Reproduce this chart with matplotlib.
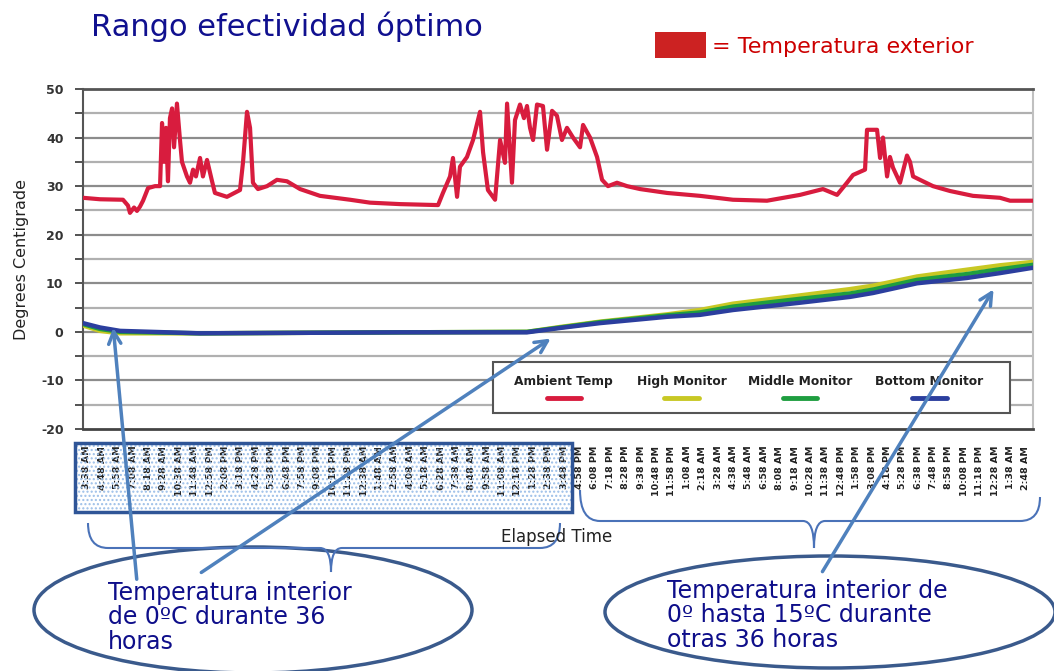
import numpy as np
import matplotlib.pyplot as plt
from matplotlib.patches import Rectangle, Ellipse, FancyArrowPatch, PathPatch
from matplotlib.path import Path
from matplotlib.ticker import MultipleLocator, FixedLocator

plt.rcParams['axes.unicode_minus'] = False

W, H = 1054, 671

# horas desde el inicio del registro
amb_h = [0.00, 1.29, 3.03, 3.41, 3.56, 3.87, 4.09, 4.32, 4.55, 4.93, 5.46, 5.84,
         5.99, 6.14, 6.29, 6.44, 6.59, 6.75, 6.90, 7.12, 7.35, 7.50, 7.88, 8.11,
         8.34, 8.56, 8.87, 9.09, 9.40, 9.78, 10.00, 10.91, 11.90, 12.13, 12.43,
         12.66, 12.88, 13.26, 13.95, 14.70, 15.46, 16.45, 17.96, 20.24, 21.75,
         24.03, 26.91, 27.28, 27.82, 28.04, 28.35, 28.57, 29.10, 29.56, 30.09,
         30.32, 30.69, 31.23, 31.61, 31.98, 32.14, 32.51, 32.74, 33.12, 33.42,
         33.65, 33.88, 34.11, 34.41, 34.86, 35.17, 35.55, 35.92, 36.30, 36.68,
         37.14, 37.67, 37.90, 38.43, 38.96, 39.34, 39.79, 40.47, 41.23, 42.22,
         44.26, 46.76, 49.26, 51.84, 54.34, 56.08, 57.15, 57.90, 58.36, 59.27,
         59.42, 60.18, 60.41, 60.63, 60.94, 61.16, 61.39, 61.92, 62.45, 62.68,
         62.91, 63.66, 64.42, 65.71, 67.45, 69.50, 70.26, 72.00]
ambient = [27.6, 27.3, 27.2, 26.0, 24.5, 25.6, 24.9, 25.8, 27.0, 29.6, 30.0, 30.0,
           43.0, 35.0, 42.0, 31.0, 44.0, 46.0, 38.0, 47.0, 39.5, 35.0, 32.0, 30.7,
           33.4, 32.0, 35.8, 32.0, 35.4, 31.0, 28.6, 27.8, 29.2, 35.0, 45.3,
           42.0, 30.7, 29.4, 30.0, 31.3, 31.0, 29.4, 28.0, 27.2, 26.6,
           26.3, 26.1, 28.6, 32.0, 35.8, 27.8, 34.0, 36.0, 39.5, 45.3,
           37.0, 29.2, 27.2, 39.5, 34.8, 47.0, 30.7, 43.6, 46.8, 44.0,
           46.5, 42.0, 39.5, 46.8, 46.5, 37.5, 45.5, 44.5, 39.5, 42.0,
           40.0, 38.0, 42.6, 40.0, 36.0, 31.3, 30.0, 30.7, 30.0, 29.4,
           28.6, 28.0, 27.2, 27.0, 28.2, 29.4, 28.2, 30.7, 32.3, 33.4,
           41.6, 41.6, 35.8, 40.0, 32.0, 36.0, 33.8, 30.7, 36.3, 35.0,
           32.0, 31.0, 30.0, 29.0, 28.0, 27.6, 27.0, 27.0]

mon_h = [0.00, 1.29, 2.81, 8.87, 24.03, 33.65, 36.15, 39.18, 44.26, 46.76,
         49.26, 54.34, 58.13, 59.87, 63.21, 67.00, 69.50, 72.00]
high = [1.3, 0.2, -0.3, -0.3, -0.1, 0.0, 1.0, 2.1, 3.6, 4.5,
        5.8, 7.5, 8.8, 9.5, 11.4, 12.8, 13.7, 14.4]
middle = [1.6, 0.6, 0.0, -0.3, -0.1, 0.0, 0.9, 2.0, 3.4, 4.0,
          5.2, 6.8, 7.9, 8.7, 10.7, 11.9, 12.9, 13.8]
bottom = [1.8, 0.9, 0.2, -0.3, -0.1, -0.1, 0.8, 1.8, 3.1, 3.5,
          4.5, 6.0, 7.2, 8.0, 10.0, 11.1, 12.1, 13.2]

tick_labels = ['3:38 AM', '4:48 AM', '5:58 AM', '7:08 AM', '8:18 AM', '9:28 AM',
               '10:38 AM', '11:48 AM', '12:58 PM', '2:08 PM', '3:18 PM', '4:28 PM',
               '5:38 PM', '6:48 PM', '7:58 PM', '9:08 PM', '10:18 PM', '11:28 PM',
               '12:38 AM', '1:48 AM', '2:58 AM', '4:08 AM', '5:18 AM', '6:28 AM',
               '7:38 AM', '8:48 AM', '9:58 AM', '11:08 AM', '12:18 PM', '1:28 PM',
               '2:38 PM', '3:48 PM', '4:58 PM', '6:08 PM', '7:18 PM', '8:28 PM',
               '9:38 PM', '10:48 PM', '11:58 PM', '1:08 AM', '2:18 AM', '3:28 AM',
               '4:38 AM', '5:48 AM', '6:58 AM', '8:08 AM', '9:18 AM', '10:28 AM',
               '11:38 AM', '12:48 PM', '1:58 PM', '3:08 PM', '4:18 PM', '5:28 PM',
               '6:38 PM', '7:48 PM', '8:58 PM', '10:08 PM', '11:18 PM', '12:28 AM',
               '1:38 AM', '2:48 AM']

names = ['Ambient Temp', 'High Monitor', 'Middle Monitor', 'Bottom Monitor']
colors = ['#d81c3e', '#c8c824', '#1f9e40', '#2b3e9e']


def fx(x):
    return x / W


def fy(y):
    return 1 - y / H


fig = plt.figure(figsize=(W / 100, H / 100), dpi=100)
ax = fig.add_axes([fx(83), fy(429), 950 / W, 340 / H])

ax.plot(mon_h, high, color=colors[1], lw=3.2, zorder=3)
ax.plot(mon_h, middle, color=colors[2], lw=3.2, zorder=4)
ax.plot(mon_h, bottom, color=colors[3], lw=3.2, zorder=5)
ax.plot(amb_h, ambient, color=colors[0], lw=3, zorder=6)

ax.set_xlim(0, 72)
ax.set_ylim(-20, 50)

# rejilla cada 5 grados
for v in range(-15, 50, 5):
    ax.axhline(v, color='#8c8c8c' if v % 10 == 0 else '#b0b0b0', lw=1.6, zorder=1)

ax.yaxis.set_major_locator(MultipleLocator(10))
ax.yaxis.set_minor_locator(MultipleLocator(5))
ax.tick_params(axis='y', which='both', length=6, width=1.3, color='#444', pad=8,
               labelsize=9, labelcolor='#333')
for t in ax.get_yticklabels():
    t.set_fontweight('bold')

ticks = np.arange(len(tick_labels)) * 70 / 60 + 0.3
ax.xaxis.set_major_locator(FixedLocator(ticks))
ax.set_xticklabels(tick_labels, rotation=90, fontsize=6.8, fontweight='bold', color='#222')
ax.tick_params(axis='x', length=0, pad=12)

ax.spines['top'].set_color('#555')
ax.spines['top'].set_linewidth(2)
ax.spines['bottom'].set_color('#444')
ax.spines['bottom'].set_linewidth(2)
ax.spines['left'].set_color('#555')
ax.spines['left'].set_linewidth(1.5)
ax.spines['right'].set_color('#c0c0c0')
ax.spines['right'].set_linewidth(1.5)

ax.set_ylabel('Degrees Centigrade', fontsize=11.5, color='#222')
ax.yaxis.set_label_coords(-0.057, 0.5)

# leyenda del registrador
ax.add_patch(Rectangle((0.4316, 0.047), 0.5442, 0.15, transform=ax.transAxes,
                       facecolor='white', edgecolor='#555', lw=1.5, zorder=8))
leg_x = [0.506, 0.630, 0.755, 0.891]
for x, name, c in zip(leg_x, names, colors):
    ax.text(x, 0.141, name, transform=ax.transAxes, ha='center', va='center',
            fontsize=8.8, fontweight='bold', color='#222', zorder=9)
    ax.plot([x - 0.018, x + 0.018], [0.092, 0.092], transform=ax.transAxes,
            color=c, lw=3.5, solid_capstyle='round', zorder=9)

# textos superiores
fig.text(fx(91), fy(36), 'Rango efectividad óptimo', fontsize=22, color='#10108f',
         va='baseline')
fig.add_artist(Rectangle((fx(655), fy(58)), 51 / W, 26 / H, transform=fig.transFigure,
                         facecolor='#cc2222', edgecolor='none'))
fig.text(fx(712), fy(53), '= Temperatura exterior', fontsize=16, color='#cc0000',
         va='baseline')

fig.text(fx(557), fy(537), 'Elapsed Time', fontsize=12, color='#222',
         ha='center', va='center')

# recuadro punteado sobre las primeras 36 horas
fig.add_artist(Rectangle((fx(75), fy(512)), 497 / W, 69 / H, transform=fig.transFigure,
                         facecolor='none', edgecolor='#9cbfe8', hatch='....', lw=0))
fig.add_artist(Rectangle((fx(75), fy(512)), 497 / W, 69 / H, transform=fig.transFigure,
                         facecolor='none', edgecolor='#2f5597', lw=2.5))

# elipses con comentarios
fig.add_artist(Ellipse((fx(253), fy(610)), 438 / W, 126 / H, transform=fig.transFigure,
                       facecolor='white', edgecolor='#3a5a8c', lw=2.5))
fig.add_artist(Ellipse((fx(830), fy(612)), 450 / W, 112 / H, transform=fig.transFigure,
                       facecolor='white', edgecolor='#3a5a8c', lw=2.5))


def brace(pts):
    verts = [(fx(x), fy(y)) for x, y in pts]
    codes = [Path.MOVETO, Path.CURVE3, Path.CURVE3, Path.LINETO,
             Path.CURVE3, Path.CURVE3, Path.CURVE3, Path.CURVE3,
             Path.LINETO, Path.CURVE3, Path.CURVE3]
    fig.add_artist(PathPatch(Path(verts, codes), transform=fig.transFigure,
                             facecolor='none', edgecolor='#4a72b8', lw=1.5))


brace([(88, 523), (88, 548), (108, 548), (320, 548), (331, 548), (331, 572),
       (331, 548), (342, 548), (540, 548), (560, 548), (560, 523)])
brace([(580, 490), (580, 521), (600, 521), (803, 521), (814, 521), (814, 548),
       (814, 521), (825, 521), (1020, 521), (1040, 521), (1040, 497)])

left_lines = ['Temperatura interior', 'de 0ºC durante 36', 'horas']
right_lines = ['Temperatura interior de', '0º hasta 15ºC durante', 'otras 36 horas']
for i, s in enumerate(left_lines):
    fig.text(fx(108), fy(600 + 24.5 * i), s, fontsize=17, color='#0e0e8a', va='baseline')
for i, s in enumerate(right_lines):
    fig.text(fx(667), fy(598 + 24.5 * i), s, fontsize=17, color='#0e0e8a', va='baseline')

# flechas
for tail, head in [((137, 582), (113, 325)), ((199, 574), (553, 337)),
                   ((821, 574), (995, 287))]:
    fig.add_artist(FancyArrowPatch((fx(tail[0]), fy(tail[1])), (fx(head[0]), fy(head[1])),
                                   transform=fig.transFigure, arrowstyle='->',
                                   mutation_scale=22, color='#4f81bd', lw=2.5))

fig.savefig('out.png', dpi=100)
